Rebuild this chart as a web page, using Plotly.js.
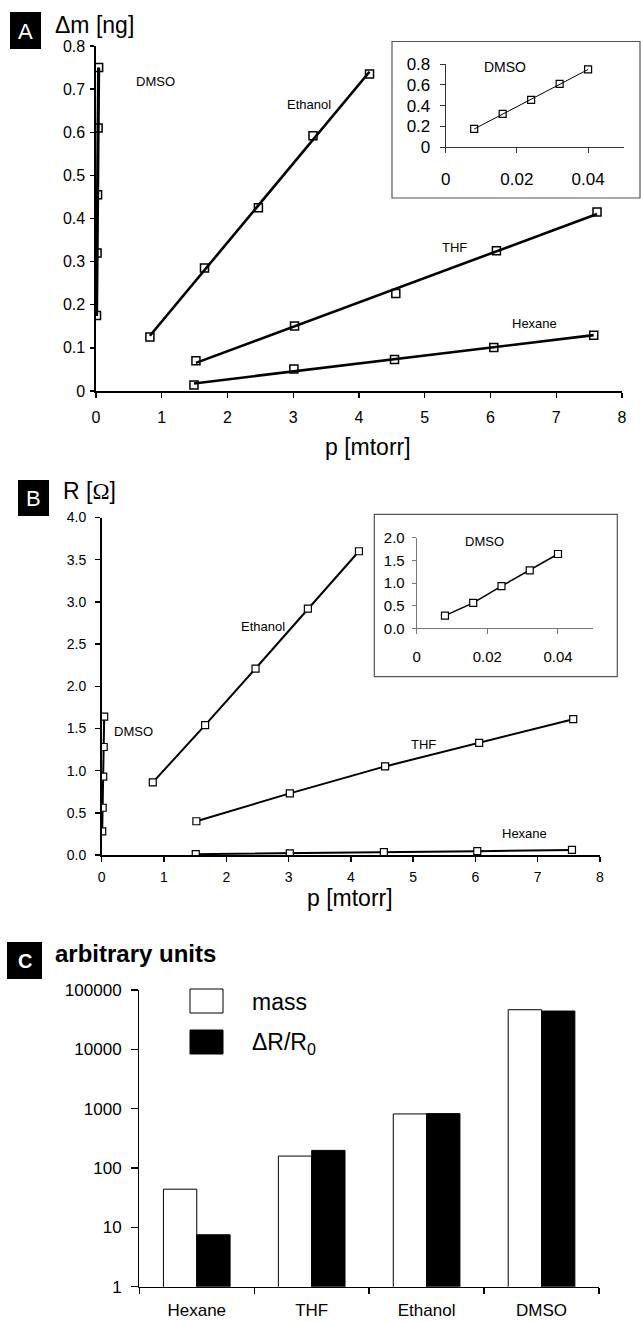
<!DOCTYPE html>
<html>
<head>
<meta charset="utf-8">
<script src="https://cdn.plot.ly/plotly-3.0.1.min.js"></script>
<style>html,body{margin:0;padding:0;background:#fff;}#chart{width:641px;height:1322px;}</style>
</head>
<body>
<div id="chart"></div>
<script>
// ---------- Data ----------
// Panel A: mass change (ng) vs pressure (mtorr)
const aHexaneP = [1.49, 3.01, 4.54, 6.05, 7.57];
const aHexaneM = [0.014, 0.051, 0.073, 0.101, 0.129];
const aThfP = [1.52, 3.02, 4.56, 6.09, 7.62];
const aThfM = [0.070, 0.151, 0.226, 0.325, 0.415];
const aEthanolP = [0.82, 1.65, 2.47, 3.30, 4.16];
const aEthanolM = [0.125, 0.285, 0.425, 0.592, 0.735];
const aDmsoP = [0.008, 0.016, 0.024, 0.032, 0.040];
const aDmsoM = [0.175, 0.320, 0.455, 0.610, 0.750];

// Panel B: resistance (Ohm) vs pressure (mtorr)
const bHexaneP = [1.51, 3.02, 4.53, 6.03, 7.55];
const bHexaneR = [0.010, 0.020, 0.035, 0.045, 0.060];
const bThfP = [1.52, 3.02, 4.55, 6.06, 7.57];
const bThfR = [0.40, 0.73, 1.05, 1.33, 1.61];
const bEthanolP = [0.82, 1.66, 2.47, 3.31, 4.13];
const bEthanolR = [0.86, 1.54, 2.21, 2.92, 3.60];
const bDmsoP = [0.008, 0.016, 0.024, 0.032, 0.040];
const bDmsoR = [0.28, 0.56, 0.93, 1.28, 1.64];

// Panel C: arbitrary units (log scale)
const cSolvents = ["Hexane", "THF", "Ethanol", "DMSO"];
const cMass = [44, 159, 815, 46500];
const cResist = [7.5, 198, 826, 44200];

// Tick labels
const cTickVals = [1, 10, 100, 1000, 10000, 100000];
const cTickText = ["1", "10", "100", "1000", "10000", "100000"];

// ---------- Helpers ----------
const W = 641, H = 1322;
const FONT = "Liberation Sans, Arial, Helvetica, sans-serif";
const px = v => v / W;
const py = v => 1 - v / H;
const dx = (a, b) => [px(a), px(b)];
const dy = (top, bottom) => [py(bottom), py(top)];

function linFit(xs, ys) {
  const n = xs.length;
  const mx = xs.reduce((s, v) => s + v, 0) / n;
  const my = ys.reduce((s, v) => s + v, 0) / n;
  let sxy = 0, sxx = 0;
  for (let i = 0; i < n; i++) { sxy += (xs[i] - mx) * (ys[i] - my); sxx += (xs[i] - mx) ** 2; }
  const k = sxy / sxx, b = my - k * mx;
  const x0 = Math.min(...xs), x1 = Math.max(...xs);
  return { x: [x0, x1], y: [k * x0 + b, k * x1 + b] };
}

const traces = [];
function addTrend(xs, ys, xa, ya, lw, msize, mlw) {
  traces.push({ x: xs, y: ys, xaxis: xa, yaxis: ya, type: "scatter", mode: "markers",
    marker: { symbol: "square-open", size: msize, color: "#000", line: { width: mlw, color: "#000" } },
    hoverinfo: "skip" });
  const f = linFit(xs, ys);
  traces.push({ x: f.x, y: f.y, xaxis: xa, yaxis: ya, type: "scatter", mode: "lines",
    line: { color: "#000", width: lw }, hoverinfo: "skip" });
}
function addLinePts(xs, ys, xa, ya, lw, msize) {
  traces.push({ x: xs, y: ys, xaxis: xa, yaxis: ya, type: "scatter", mode: "lines+markers",
    line: { color: "#000", width: lw },
    marker: { symbol: "square", size: msize, color: "#fff", line: { width: 1.2, color: "#000" } },
    hoverinfo: "skip" });
}

// Panel A main
addTrend(aHexaneP, aHexaneM, "x", "y", 2.6, 8, 1.5);
addTrend(aThfP, aThfM, "x", "y", 2.6, 8, 1.5);
addTrend(aEthanolP, aEthanolM, "x", "y", 2.6, 8, 1.5);
addTrend(aDmsoP, aDmsoM, "x", "y", 3.2, 8, 1.5);
// Panel A inset
addTrend(aDmsoP, aDmsoM, "x2", "y2", 1, 7, 1.2);
// Panel B main
addLinePts(bHexaneP, bHexaneR, "x3", "y3", 2, 7);
addLinePts(bThfP, bThfR, "x3", "y3", 2, 7);
addLinePts(bEthanolP, bEthanolR, "x3", "y3", 2, 7);
addLinePts(bDmsoP, bDmsoR, "x3", "y3", 2, 7);
// Panel B inset
addLinePts(bDmsoP, bDmsoR, "x4", "y4", 1.5, 7);
// Panel C
traces.push({ x: cSolvents, y: cMass, type: "bar", xaxis: "x5", yaxis: "y5", name: "mass",
  marker: { color: "#fff", line: { color: "#000", width: 1 } }, hoverinfo: "skip" });
traces.push({ x: cSolvents, y: cResist, type: "bar", xaxis: "x5", yaxis: "y5", name: "dR",
  marker: { color: "#000", line: { color: "#000", width: 1 } }, hoverinfo: "skip" });

const baseAx = { showgrid: false, zeroline: false, showline: true, linecolor: "#000", ticks: "outside",
  tickcolor: "#000", fixedrange: true };

const layout = {
  width: W, height: H, margin: { l: 0, r: 0, t: 0, b: 0 }, paper_bgcolor: "#fff", plot_bgcolor: "rgba(0,0,0,0)",
  showlegend: false, font: { family: FONT, color: "#000" },
  barmode: "group", bargap: 0.42, bargroupgap: 0,
  // Panel A main
  xaxis: Object.assign({}, baseAx, { domain: dx(96, 622), anchor: "y", range: [0, 8], dtick: 1, linewidth: 1.6,
    tickwidth: 1.4, ticklen: 5, tickfont: { size: 16 }, ticklabelstandoff: 6 }),
  yaxis: Object.assign({}, baseAx, { domain: dy(46, 391), anchor: "x", range: [0, 0.8], dtick: 0.1, linewidth: 1.6,
    tickwidth: 1.4, ticklen: 4, tickfont: { size: 16 }, ticklabelstandoff: 2 }),
  // Panel A inset
  xaxis2: Object.assign({}, baseAx, { domain: dx(445.7, 623.7), anchor: "y2", range: [0, 0.05], dtick: 0.02, linewidth: 1,
    linecolor: "#333", tickcolor: "#333", tickwidth: 1, ticklen: 5, tickfont: { size: 17 }, ticklabelstandoff: 12 }),
  yaxis2: Object.assign({}, baseAx, { domain: dy(64.3, 147), anchor: "x2", range: [0, 0.8], dtick: 0.2, linewidth: 1,
    linecolor: "#333", tickcolor: "#333", tickwidth: 1, ticklen: 5, tickfont: { size: 17 }, ticklabelstandoff: 6 }),
  // Panel B main
  xaxis3: Object.assign({}, baseAx, { domain: dx(101.7, 600), anchor: "y3", range: [0, 8], dtick: 1, linewidth: 1.6,
    tickwidth: 1.4, ticklen: 5, tickfont: { size: 14 }, ticklabelstandoff: 4 }),
  yaxis3: Object.assign({}, baseAx, { domain: dy(517.5, 855), anchor: "x3", range: [0, 4], dtick: 0.5, tickformat: ".1f",
    linewidth: 1.6, tickwidth: 1.4, ticklen: 5, tickfont: { size: 14 }, ticklabelstandoff: 6 }),
  // Panel B inset
  xaxis4: Object.assign({}, baseAx, { domain: dx(416.7, 593.3), anchor: "y4", range: [0, 0.05], dtick: 0.02, linewidth: 1,
    linecolor: "#777", tickcolor: "#777", tickwidth: 1, ticklen: 5, tickfont: { size: 15 }, ticklabelstandoff: 10 }),
  yaxis4: Object.assign({}, baseAx, { domain: dy(537.7, 628.3), anchor: "x4", range: [0, 2], dtick: 0.5, tickformat: ".1f",
    linewidth: 1, linecolor: "#777", tickcolor: "#777", tickwidth: 1, ticklen: 4, tickfont: { size: 15 }, ticklabelstandoff: 4 }),
  // Panel C
  xaxis5: Object.assign({}, baseAx, { domain: dx(139.3, 599), anchor: "y5", type: "category", range: [-0.5, 3.5],
    tickson: "boundaries", linewidth: 1.3, tickwidth: 1.3, ticklen: 6, tickfont: { size: 17 }, ticklabelstandoff: 8 }),
  yaxis5: Object.assign({}, baseAx, { domain: dy(990, 1286.7), anchor: "x5", type: "log", range: [0, 5],
    tickvals: cTickVals, ticktext: cTickText, linewidth: 1.3, tickwidth: 1.3, ticklen: 7, tickfont: { size: 17 }, ticklabelstandoff: 6 }),
  shapes: [
    // inset frames
    { type: "rect", xref: "paper", yref: "paper", x0: px(392), x1: px(640), y0: py(198), y1: py(41.5),
      line: { color: "#555", width: 1.2 }, fillcolor: "#fff", layer: "below" },
    { type: "rect", xref: "paper", yref: "paper", x0: px(374.3), x1: px(617.3), y0: py(676.7), y1: py(514.3),
      line: { color: "#555", width: 1.2 }, fillcolor: "#fff", layer: "below" },
    // panel letter boxes
    { type: "rect", xref: "paper", yref: "paper", x0: px(10), x1: px(41), y0: py(49), y1: py(12),
      line: { width: 0 }, fillcolor: "#000" },
    { type: "rect", xref: "paper", yref: "paper", x0: px(18), x1: px(49), y0: py(516), y1: py(480),
      line: { width: 0 }, fillcolor: "#000" },
    { type: "rect", xref: "paper", yref: "paper", x0: px(7), x1: px(42), y0: py(979), y1: py(942),
      line: { width: 0 }, fillcolor: "#000" },
    // legend keys (panel C)
    { type: "rect", xref: "paper", yref: "paper", x0: px(190), x1: px(223), y0: py(1013), y1: py(989),
      line: { color: "#000", width: 1 }, fillcolor: "#fff" },
    { type: "rect", xref: "paper", yref: "paper", x0: px(190), x1: px(223), y0: py(1054), y1: py(1030),
      line: { color: "#000", width: 1 }, fillcolor: "#000" }
  ],
  annotations: []
};

function note(text, x, y, size, opts) {
  layout.annotations.push(Object.assign({ text: text, xref: "paper", yref: "paper", x: px(x), y: py(y),
    xanchor: "center", yanchor: "middle", showarrow: false, font: { size: size, family: FONT, color: "#000" } }, opts || {}));
}
// panel letters
note("A", 25.5, 31, 22, { font: { size: 22, family: FONT, color: "#fff" } });
note("B", 33.5, 498.5, 22, { font: { size: 22, family: FONT, color: "#fff" } });
note("<b>C</b>", 24.5, 961, 20, { font: { size: 20, family: FONT, color: "#fff" } });
// axis titles
note("Δm [ng]", 53, 25, 23, { xanchor: "left" });
note("p [mtorr]", 367.5, 446.7, 23);
note("R [<span style=\"font-family:'Liberation Serif',serif\">Ω</span>]", 61, 491, 23, { xanchor: "left" });
note("p [mtorr]", 350, 898, 23);
note("<b>arbitrary units</b>", 53, 954, 24, { xanchor: "left" });
// series labels A
note("DMSO", 155.5, 81.7, 13);
note("Ethanol", 309, 104.3, 13);
note("THF", 454.7, 247.3, 13);
note("Hexane", 534.3, 323.3, 13);
note("DMSO", 505, 67, 14);
// series labels B
note("Ethanol", 262.5, 626.7, 13);
note("DMSO", 133, 731.7, 13);
note("THF", 423.7, 745, 13);
note("Hexane", 524, 833.3, 13);
note("DMSO", 484.2, 541.7, 13);
// legend text C
note("mass", 250, 1002, 23, { xanchor: "left" });
note("ΔR/R<sub>0</sub>", 250, 1043, 23, { xanchor: "left" });

Plotly.newPlot("chart", traces, layout, { staticPlot: true, displayModeBar: false });
</script>
</body>
</html>
